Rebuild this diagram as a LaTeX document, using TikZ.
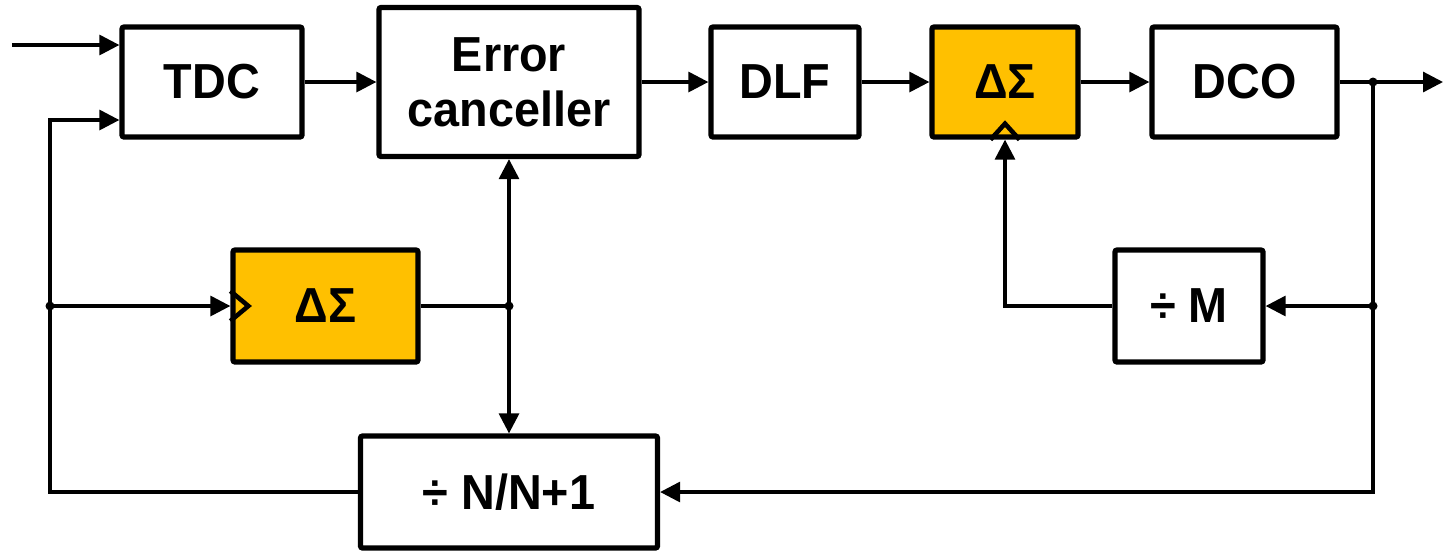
\documentclass[tikz,border=0pt]{standalone}
\usepackage{fontspec}
\setmainfont[FakeStretch=0.95]{Liberation Sans}
\usetikzlibrary{arrows.meta,calc}
\definecolor{sdorange}{HTML}{FFC000}
\tikzset{
	blk/.style={draw,line width=1.5pt,rounded corners=0.6pt,minimum width=#1,minimum height=1.1cm,inner sep=0pt,font=\fontsize{14}{15.6}\selectfont\bfseries,align=center},
	sdm/.style={blk=#1,fill=sdorange},
	arr/.style={line width=0.9pt,-{Triangle[length=2mm,width=2mm]}},
	ln/.style={line width=0.9pt},
}
\begin{document}
\begin{tikzpicture}
	\useasboundingbox (0,0) rectangle (14.43,5.5);
	% forward path
	\node[blk=1.8cm] (tdc) at (2.12,4.68) {TDC};
	\node[blk=2.6cm,minimum height=1.49cm] (err) at (5.09,4.68) {Error\\canceller};
	\node[blk=1.48cm] (dlf) at (7.85,4.68) {DLF};
	\node[sdm=1.46cm] (sdtop) at (10.05,4.68) {ΔΣ};
	\node[blk=1.85cm] (dco) at (12.445,4.68) {DCO};
	% feedback blocks
	\node[sdm=1.85cm,minimum height=1.12cm] (sdlow) at (3.255,2.44) {ΔΣ};
	\node[blk=1.48cm,minimum height=1.12cm] (divm) at (11.89,2.44) {÷ M};
	\node[blk=2.97cm,minimum height=1.12cm] (divn) at (5.09,0.58) {÷ N/N+1};
	% clock marks
	\draw[line width=1.3pt] ([yshift=1.5mm]sdlow.west) -- ++(0.18,-0.15) -- ++(-0.18,-0.15);
	\draw[line width=1.3pt] ([xshift=-1.45mm]sdtop.south) -- ++(0.145,0.16) -- ++(0.145,-0.16);
	% junctions
	\coordinate (ref) at (0.12,5.05);
	\coordinate (fbl) at (0.50,2.44);
	\coordinate (tdcfb) at ($(tdc.west)+(0,-0.38)$);
	\coordinate (mid) at (err.south |- sdlow.east);
	\coordinate (tap) at (13.73,4.68);
	\coordinate (fbr) at (13.73,2.44);
	\coordinate (out) at (14.43,4.68);
	\draw[arr] (ref) -- (tdc.west |- ref);
	\draw[arr] (tdc) -- (err);
	\draw[arr] (err) -- (dlf);
	\draw[arr] (dlf) -- (sdtop);
	\draw[arr] (sdtop) -- (dco);
	\draw[arr] (dco.east) -- (out);
	\draw[arr] (tap) |- (divn.east);
	\draw[arr] (fbr) -- (divm.east);
	\draw[arr] (divm.west) -| (sdtop.south);
	\draw[arr] (divn.west) -| (fbl) |- (tdcfb);
	\draw[arr] (fbl) -- (sdlow.west);
	\draw[ln] (sdlow.east) -- (mid);
	\draw[ln,{Triangle[length=2mm,width=2mm]}-{Triangle[length=2mm,width=2mm]}] (err.south) -- (divn.north);
	\foreach \j in {fbl,mid,tap,fbr}
		\fill (\j) circle (0.045);
\end{tikzpicture}
\end{document}
